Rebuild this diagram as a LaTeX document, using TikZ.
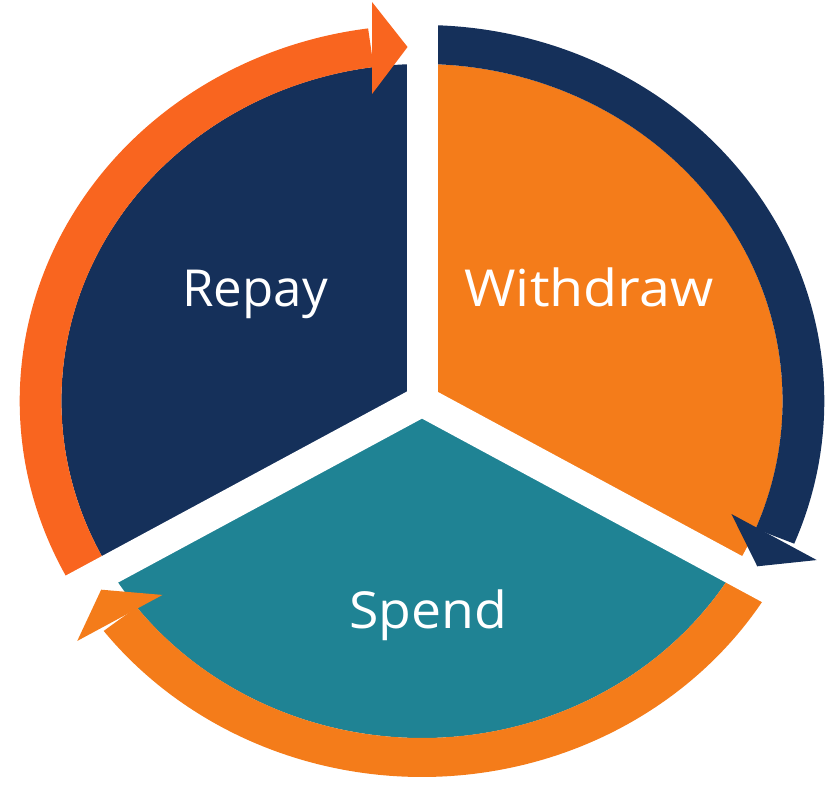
\documentclass[tikz,border=0pt]{standalone}
\usepackage{graphicx}
\usepackage{fontspec}
\setmainfont{Open Sans}
\definecolor{navy}{HTML}{15305A}
\definecolor{sorange}{HTML}{F47C1A}
\definecolor{rorange}{HTML}{F9651F}
\definecolor{tealc}{HTML}{1F8394}
\tikzset{
  gapline/.style={white, line width=31pt},
  lbl/.style={text=white, anchor=base, inner sep=0pt, font=\fontsize{51}{60}\selectfont},
  headshape/.pic={\fill (-46.7,307) -- (-13.5,354) -- (-46.7,399) -- cycle;}
}
\begin{document}
\begin{tikzpicture}[x=1pt,y=1pt]
\useasboundingbox (0,0) rectangle (825,787);
\begin{scope}[shift={(422,386)}, xscale=1.07]
  % sectors
  \fill[navy] (0,0) -- (90:337) arc (90:210:337) -- cycle;
  \fill[tealc] (0,0) -- (210:337) arc (210:330:337) -- cycle;
  \fill[sorange] (0,0) -- (-30:337) arc (-30:90:337) -- cycle;
  % arrow bands
  \fill[rorange] (210:337) arc (210:97.7:337) -- (97.7:376) arc (97.7:210:376) -- cycle;
  \fill[navy] (90:337) arc (90:-22.3:337) -- (-22.3:376) arc (-22.3:90:376) -- cycle;
  \fill[sorange] (330:337) arc (330:217.7:337) -- (217.7:376) arc (217.7:330:376) -- cycle;
  % gaps
  \coordinate (c) at (0,0);
  \coordinate (g1) at (90:410);
  \coordinate (g2) at (210:410);
  \coordinate (g3) at (330:410);
  \draw[gapline] (c) -- (g1);
  \draw[gapline] (c) -- (g2);
  \draw[gapline] (c) -- (g3);
  % arrow heads
  \fill[rorange] (-46.7,307) -- (-13.5,354) -- (-46.7,399) -- cycle;
  \fill[navy, rotate=-120] (-46.7,307) -- (-13.5,354) -- (-46.7,399) -- cycle;
  \fill[sorange, rotate=120] (-46.7,307) -- (-13.5,354) -- (-46.7,399) -- cycle;
\end{scope}
\node[lbl] (repay) at (255,480) {Repay};
\node[lbl] (withdraw) at (589,480) {\scalebox{1.09}[1]{Withdraw}};
\node[lbl] (spend) at (428,158) {\scalebox{1.05}[1]{Spend}};
\end{tikzpicture}
\end{document}
